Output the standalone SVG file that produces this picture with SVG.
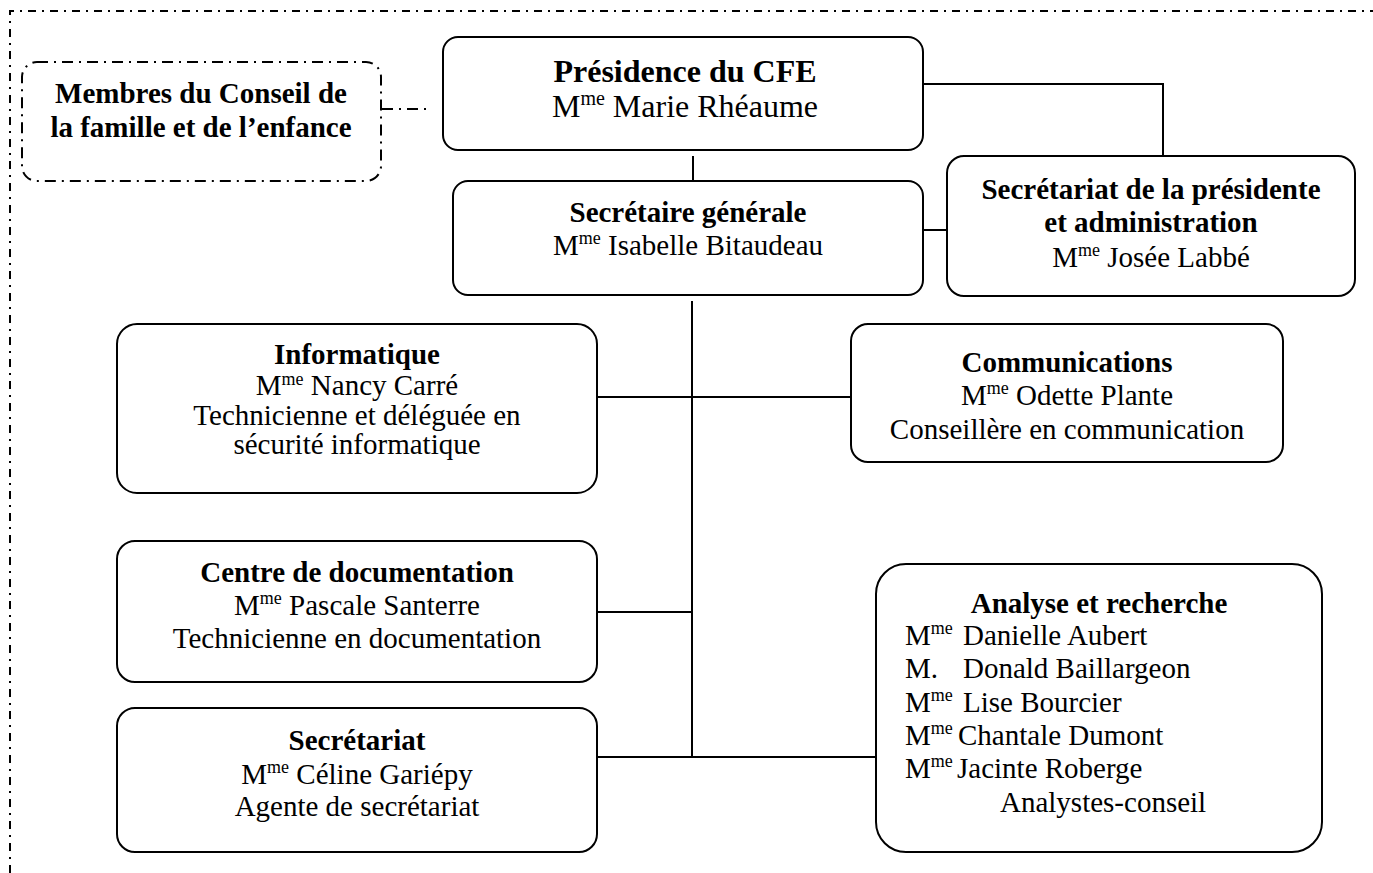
<svg xmlns="http://www.w3.org/2000/svg" width="1373" height="873" viewBox="0 0 1373 873">
<style>
text{font-family:"Liberation Serif","Times New Roman",serif;font-size:29px;fill:#000}
.c{text-anchor:middle}
.b{font-weight:bold}
.big{font-size:32px}
.box{fill:#fff;stroke:#000;stroke-width:2}
.con{fill:none;stroke:#000;stroke-width:2}
.dd{fill:none;stroke:#000;stroke-width:2;stroke-dasharray:11 6 2 6}
.sup{font-size:18px}
.bsup{font-size:20px}
</style>
<rect width="1373" height="873" fill="#fff"/>
<path d="M10,873 V11 H1373" fill="none" stroke="#000" stroke-width="2" stroke-dasharray="8 6 2 6"/>
<g id="connectors">
<path class="dd" d="M382,109 H430" stroke-width="1.5"/>
<path class="con" d="M693,156 V181"/>
<path class="con" d="M923,84 H1163 V156"/>
<path class="con" d="M923,230 H947"/>
<path class="con" d="M692,301 V757"/>
<path class="con" d="M597,397 H851"/>
<path class="con" d="M597,612 H692"/>
<path class="con" d="M597,757 H876"/>
</g>
<g id="membres">
<rect class="dd" x="22" y="62" width="359" height="119" rx="15"/>
<text class="c b" x="201" y="103">Membres du Conseil de</text>
<text class="c b" x="201" y="137">la famille et de l’enfance</text>
</g>
<g id="presidence">
<rect class="box" x="443" y="37" width="480" height="113" rx="15"/>
<text class="c b big" x="685" y="82">Présidence du CFE</text>
<text class="c big" x="685" y="117">M<tspan class="bsup" dy="-12">me</tspan><tspan dy="12"> Marie Rhéaume</tspan></text>
</g>
<g id="secretaire">
<rect class="box" x="453" y="181" width="470" height="114" rx="15"/>
<text class="c b" x="688" y="222">Secrétaire générale</text>
<text class="c" x="688" y="255">M<tspan class="sup" dy="-11">me</tspan><tspan dy="11"> Isabelle Bitaudeau</tspan></text>
</g>
<g id="secretariat-presidente">
<rect class="box" x="947" y="156" width="408" height="140" rx="17"/>
<text class="c b" x="1151" y="199">Secrétariat de la présidente</text>
<text class="c b" x="1151" y="232">et administration</text>
<text class="c" x="1151" y="267">M<tspan class="sup" dy="-11">me</tspan><tspan dy="11"> Josée Labbé</tspan></text>
</g>
<g id="informatique">
<rect class="box" x="117" y="324" width="480" height="169" rx="20"/>
<text class="c b" x="357" y="364">Informatique</text>
<text class="c" x="357" y="395">M<tspan class="sup" dy="-10">me</tspan><tspan dy="10"> Nancy Carré</tspan></text>
<text class="c" x="357" y="425">Technicienne et déléguée en</text>
<text class="c" x="357" y="454">sécurité informatique</text>
</g>
<g id="communications">
<rect class="box" x="851" y="324" width="432" height="138" rx="17"/>
<text class="c b" x="1067" y="372">Communications</text>
<text class="c" x="1067" y="405">M<tspan class="sup" dy="-11">me</tspan><tspan dy="11"> Odette Plante</tspan></text>
<text class="c" x="1067" y="439">Conseillère en communication</text>
</g>
<g id="documentation">
<rect class="box" x="117" y="541" width="480" height="141" rx="18"/>
<text class="c b" x="357" y="582">Centre de documentation</text>
<text class="c" x="357" y="615">M<tspan class="sup" dy="-11">me</tspan><tspan dy="11"> Pascale Santerre</tspan></text>
<text class="c" x="357" y="648">Technicienne en documentation</text>
</g>
<g id="secretariat">
<rect class="box" x="117" y="708" width="480" height="144" rx="18"/>
<text class="c b" x="357" y="750">Secrétariat</text>
<text class="c" x="357" y="784">M<tspan class="sup" dy="-11">me</tspan><tspan dy="11"> Céline Gariépy</tspan></text>
<text class="c" x="357" y="816">Agente de secrétariat</text>
</g>
<g id="analyse">
<rect class="box" x="876" y="564" width="446" height="288" rx="30"/>
<text class="c b" x="1099" y="613">Analyse et recherche</text>
<text x="905" y="645">M<tspan class="sup" dy="-11">me</tspan></text>
<text x="963" y="645">Danielle Aubert</text>
<text x="905" y="678">M.</text>
<text x="963" y="678">Donald Baillargeon</text>
<text x="905" y="712">M<tspan class="sup" dy="-11">me</tspan></text>
<text x="963" y="712">Lise Bourcier</text>
<text x="905" y="745">M<tspan class="sup" dy="-11">me</tspan></text>
<text x="958" y="745">Chantale Dumont</text>
<text x="905" y="778">M<tspan class="sup" dy="-11">me</tspan></text>
<text x="957" y="778">Jacinte Roberge</text>
<text x="1000" y="812">Analystes-conseil</text>
</g>
</svg>
